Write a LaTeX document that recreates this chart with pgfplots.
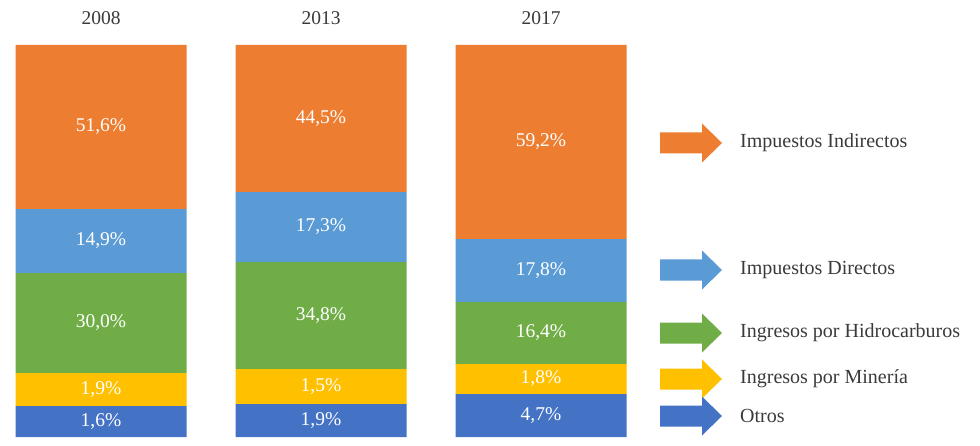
\documentclass[border=0pt]{standalone}
\usepackage{fontspec}
\setmainfont{Liberation Serif}
\usepackage{pgfplots}
\pgfplotsset{compat=1.18}
\definecolor{cInd}{HTML}{ED7D31}
\definecolor{cDir}{HTML}{5B9BD5}
\definecolor{cHid}{HTML}{70AD47}
\definecolor{cMin}{HTML}{FFC000}
\definecolor{cOtr}{HTML}{4472C4}
\definecolor{txt}{HTML}{3A3A3A}
\newcommand{\arr}[2]{\fill[#1] (axis cs:660,{#2+10.5}) -- (axis cs:702,{#2+10.5}) -- (axis cs:702,{#2+19.5}) -- (axis cs:722,#2) -- (axis cs:702,{#2-19.5}) -- (axis cs:702,{#2-10.5}) -- (axis cs:660,{#2-10.5}) -- cycle;}
\begin{document}
\begin{tikzpicture}
\pgfplotsset{base/.style={scale only axis, width=980pt, height=445pt, xmin=0, xmax=980, ymin=-8, ymax=437, hide axis, clip=false, at={(0,0)}, anchor=south west}}
\begin{axis}[base, ybar stacked, bar width=171pt]
\addplot[fill=cOtr, draw=none] coordinates {(101,31) (321,33) (541,43)};
\addplot[fill=cMin, draw=none] coordinates {(101,33) (321,35) (541,30)};
\addplot[fill=cHid, draw=none] coordinates {(101,100) (321,107) (541,62)};
\addplot[fill=cDir, draw=none] coordinates {(101,64) (321,70) (541,63)};
\addplot[fill=cInd, draw=none] coordinates {(101,164) (321,147) (541,194)};
\end{axis}
\begin{axis}[base]
\arr{cInd}{294}
\arr{cDir}{167}
\arr{cHid}{104}
\arr{cMin}{58}
\arr{cOtr}{21}
\addplot[only marks, mark=none, nodes near coords, point meta=explicit symbolic,
  nodes near coords style={anchor=center, text=white, font=\fontsize{19.5}{22}\selectfont}]
  coordinates {
  (101,310) [51,6\%] (101,196) [14,9\%] (101,114) [30,0\%] (101,47.5) [1,9\%] (101,15.5) [1,6\%]
  (321,318.5) [44,5\%] (321,210) [17,3\%] (321,121.5) [34,8\%] (321,50.5) [1,5\%] (321,16.5) [1,9\%]
  (541,295) [59,2\%] (541,166.5) [17,8\%] (541,104) [16,4\%] (541,58) [1,8\%] (541,21.5) [4,7\%]
  };
\addplot[only marks, mark=none, nodes near coords, point meta=explicit symbolic,
  nodes near coords style={anchor=center, text=txt, font=\fontsize{19.5}{22}\selectfont}]
  coordinates {(101,419) [2008] (321,419) [2013] (541,419) [2017]};
\addplot[only marks, mark=none, nodes near coords, point meta=explicit symbolic,
  nodes near coords style={anchor=west, inner sep=0pt, text=txt, font=\fontsize{20}{22}\selectfont}]
  coordinates {(740,294) [Impuestos Indirectos] (740,167) [Impuestos Directos] (740,104) [Ingresos por Hidrocarburos] (740,58) [Ingresos por Minería] (740,21) [Otros]};
\end{axis}
\pgfresetboundingbox
\path (0,0) rectangle (980pt,445pt);
\end{tikzpicture}
\end{document}
